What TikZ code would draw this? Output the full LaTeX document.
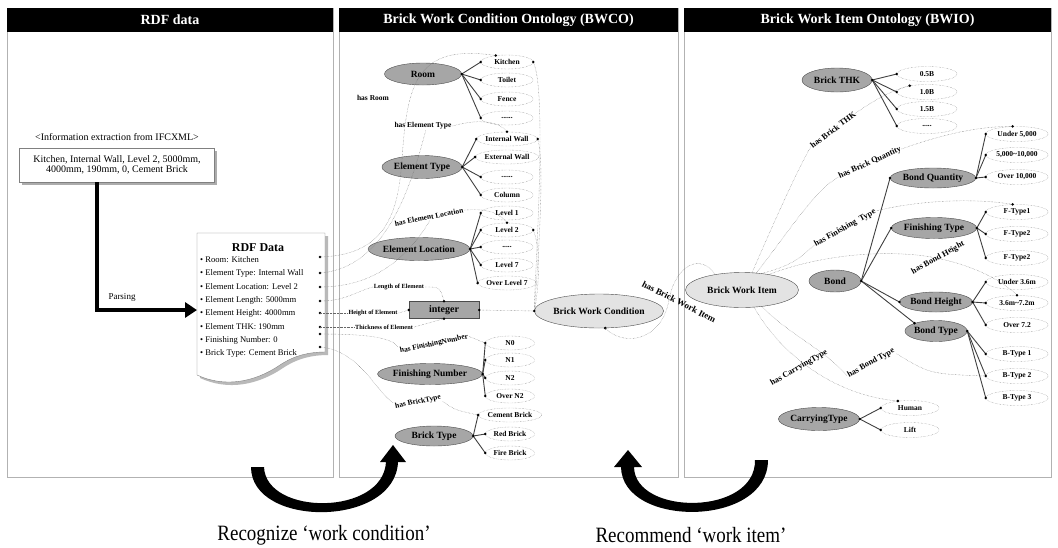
\documentclass[tikz,border=0pt]{standalone}
\usepackage{fontspec}
\setmainfont{Liberation Serif}
\usetikzlibrary{shapes.geometric,arrows.meta,shadows}

\newcommand{\fsz}[1]{\fontsize{#1}{#1}\selectfont}
\newcommand{\pin}[1]{\fill (#1) circle (1.4pt);}
\newcommand{\sixdots}{......}
\newcommand{\fivedots}{.....}

\tikzset{
  panel/.style={draw=gray!60, line width=1pt},
  bar/.style={fill=black, text=white, font=\bfseries\fsz{14}, minimum height=24pt, inner sep=0pt},
  cls/.style={ellipse, draw=gray!60!black, fill=gray!70, inner sep=0pt, font=\bfseries\fsz{9.5}},
  hub/.style={ellipse, draw=gray!60!black, fill=gray!22, inner sep=0pt, font=\bfseries\fsz{9.5}},
  val/.style={ellipse, draw=gray, densely dotted, inner sep=0pt, minimum width=52pt, minimum height=14pt, font=\bfseries\fsz{7.5}},
  rval/.style={val, minimum width=62pt, minimum height=15pt},
  rel/.style={font=\bfseries\fsz{7.5}, inner sep=1pt},
  rrel/.style={font=\bfseries\fsz{8.3}, inner sep=0.5pt},
  small/.style={font=\bfseries\fsz{6.3}, inner sep=1pt},
  link/.style={gray!80!black, densely dotted, thin},
  branch/.style={gray!50!black, line width=0.9pt},
  parse/.style={line width=4.5pt, -{Triangle[width=15pt,length=12pt]}},
}

\begin{document}
\begin{tikzpicture}[x=1pt, y=-1pt]
  \useasboundingbox (0,0) rectangle (1058,547);

  % panels
  \draw[panel] (7,8) rectangle (333,477);
  \draw[panel] (339,8) rectangle (678,477);
  \draw[panel] (684,8) rectangle (1051,477);
  \node[bar, minimum width=326pt] (ttl1) at (170,20) {RDF data};
  \node[bar, minimum width=339pt] (ttl2) at (508.5,20) {Brick Work Condition Ontology (BWCO)};
  \node[bar, minimum width=367pt] (ttl3) at (867.5,20) {Brick Work Item Ontology (BWIO)};

  % RDF data
  \node[font=\fsz{10}] (ifc) at (117,137) {\textless Information extraction from IFCXML\textgreater};
  \node[draw=gray, fill=white, align=center, font=\fsz{10}, minimum width=195pt, minimum height=34pt,
        inner sep=2pt, drop shadow={shadow xshift=2.5pt, shadow yshift=-2.5pt, fill=gray!65, opacity=1}]
        (ext) at (117,165) {Kitchen, Internal Wall, Level 2, 5000mm,\\ 4000mm, 190mm, 0, Cement Brick};

  \fill[gray!55] (200,236) -- (328,236) -- (328,355) .. controls (313,355) and (298,358) .. (283,368)
        .. controls (258,385) and (228,391) .. (200,378) -- cycle;
  \draw[gray, fill=white] (197,233) -- (325,233) -- (325,352) .. controls (310,352) and (295,355) .. (280,365)
        .. controls (255,382) and (225,388) .. (197,375) -- cycle;
  \node[font=\bfseries\fsz{12}] (rdfh) at (258,248) {RDF Data};
  \node[anchor=north west, align=left, inner sep=0pt, font=\fontsize{8.6}{13.3}\selectfont] (rdf) at (200,256.5)
        {\textbullet\ Room: Kitchen\\ \textbullet\ Element Type: Internal Wall\\ \textbullet\ Element Location: Level 2\\
         \textbullet\ Element Length: 5000mm\\ \textbullet\ Element Height: 4000mm\\ \textbullet\ Element THK: 190mm\\
         \textbullet\ Finishing Number: 0\\ \textbullet\ Brick Type: Cement Brick};
  \coordinate (docin) at (197,310);
  \foreach \nm/\yy in {1/257,2/273,3/287,4/301,5/313,6/327,7/334,8/347} {
    \coordinate (d\nm) at (320,\yy);
    \pin{d\nm}
  }

  \draw[parse] ([xshift=-20pt]ext.south) |- (docin);
  \node[font=\fsz{9}] (pars) at (122,297) {Parsing};

  % BWCO
  \node[cls, minimum width=77pt, minimum height=22pt] (room) at (423,74) {Room};
  \node[cls, minimum width=80pt, minimum height=23pt] (etype) at (422,167) {Element Type};
  \node[cls, minimum width=80pt, minimum height=23pt] (eloc) at (419,249) {Element Location};
  \node[draw=gray!60!black, fill=gray!70, minimum width=70pt, minimum height=17pt, inner sep=0pt,
        font=\bfseries\fsz{10}] (int) at (444,310) {integer};
  \node[cls, minimum width=78pt, minimum height=21pt] (fnum) at (430,374) {Finishing Number};
  \node[cls, minimum width=78pt, minimum height=20pt] (btype) at (434,436) {Brick Type};
  \node[hub, minimum width=112pt, minimum height=34pt] (bwc) at (599,311) {Brick Work Condition};

  \foreach \nm/\yy/\txt in {kit/62/Kitchen, toi/80/Toilet, fen/99/Fence, rmx/118/\sixdots,
      iwall/139/Internal Wall, ewall/157/External Wall, tpx/177/\sixdots, col/195/Column,
      lv1/213/Level 1, lv2/230/Level 2, lvx/247/\fivedots, lv7/265/Level 7, lvo/283/Over Level 7}
    {\node[val] (\nm) at (507,\yy) {\txt};}
  \foreach \nm/\yy/\txt in {n0/343/N0, n1/360/N1, n2/378/N2, no2/396/Over N2,
      cem/415/Cement Brick, red/434/Red Brick, fire/453/Fire Brick}
    {\node[val, minimum width=49pt] (\nm) at (510,\yy) {\txt};}

  \foreach \v in {kit,toi,fen,rmx} {\draw[branch] (room.east) -- (\v.west); \pin{\v.west}}
  \foreach \v in {iwall,ewall,tpx,col} {\draw[branch] (etype.east) -- (\v.west); \pin{\v.west}}
  \foreach \v in {lv1,lv2,lvx,lv7,lvo} {\draw[branch] (eloc.east) -- (\v.west); \pin{\v.west}}
  \foreach \v in {n0,n1,n2,no2} {\draw[branch] (fnum.east) -- (\v.west); \pin{\v.west}}
  \foreach \v in {cem,red,fire} {\draw[branch] (btype.east) -- (\v.west); \pin{\v.west}}
  \foreach \c in {room,etype,eloc,fnum,btype} {\pin{\c.east}}

  \node[rel] (hasroom) at (373,98) {has Room};
  \node[rel] (haset) at (423,126) {has Element Type};
  \node[rel, rotate=11] (hasel) at (429,217) {has Element Location};
  \node[small] (lenel) at (399,287) {Length of Element};
  \node[small] (heiel) at (373,313) {Height of Element};
  \node[small] (thkel) at (384,327) {Thickness of Element};
  \node[rel, rotate=12] (hasfn) at (434,344) {has FinishingNumber};
  \node[rel, rotate=12] (hasbt) at (418,402) {has BrickType};

  \draw[link] (d1) .. controls (385,255) and (398,215) .. (402,160) .. controls (407,80) and (418,44) .. (kit.150);
  \draw[link] (d2) .. controls (385,268) and (410,190) .. (haset.300);
  \draw[link] (haset.east) .. controls (480,118) and (500,122) .. (iwall.north);
  \draw[link] (d3) .. controls (370,287) and (405,262) .. (hasel.south);
  \draw[link] (hasel.east) .. controls (490,208) and (500,214) .. (lv2.north);
  \draw[link] (d4) .. controls (345,301) and (355,292) .. (lenel.west);
  \draw[link] (lenel.east) .. controls (440,287) .. (int.north);
  \draw[link] (d5) -- (heiel.west);
  \draw[link] (heiel.east) -- (int.west);
  \draw[link] (d6) -- (thkel.west);
  \draw[link] (thkel.east) .. controls (430,323) .. (int.south);
  \draw[link] (d7) .. controls (370,334) and (392,338) .. (hasfn.north west);
  \draw[link] (hasfn.east) -- (n0.west);
  \draw[link] (d8) .. controls (360,350) and (378,395) .. (hasbt.north west);
  \draw[link] (hasbt.south east) .. controls (455,410) .. (cem.west);

  \draw[link] (kit.east) .. controls (548,90) and (534,290) .. (bwc.west);
  \draw[link] (iwall.east) .. controls (546,165) and (536,290) .. (bwc.west);
  \draw[link] (lv2.east) .. controls (542,250) and (538,295) .. (bwc.west);
  \draw[link] (int.east) -- (bwc.west);
  \foreach \p in {kit.150,kit.east,iwall.north,iwall.east,lv2.north,lv2.east,
                  int.north,int.west,int.south,int.east,bwc.west,bwc.290} {\pin{\p}}

  % BWIO
  \node[hub, minimum width=113pt, minimum height=35pt] (bwi) at (742,290) {Brick Work Item};
  \node[cls, minimum width=70pt, minimum height=24pt] (bthk) at (837,80) {Brick THK};
  \node[cls, minimum width=70pt, minimum height=20pt] (bqty) at (933,178) {Bond Quantity};
  \node[cls, minimum width=66pt, minimum height=21pt] (ftype) at (934,228) {Finishing Type};
  \node[cls, minimum width=52pt, minimum height=22pt] (bond) at (835,281) {Bond};
  \node[cls, minimum width=62pt, minimum height=20pt] (bh) at (936,302) {Bond Height};
  \node[cls, minimum width=62pt, minimum height=21pt] (bt) at (936,331) {Bond Type};
  \node[cls, minimum width=76pt, minimum height=23pt] (carry) at (819,419) {CarryingType};

  \foreach \nm/\yy/\txt in {v05/74/0.5B, v10/92/1.0B, v15/109/1.5B, thkx/126/\fivedots}
    {\node[rval, minimum width=60pt] (\nm) at (927,\yy) {\txt};}
  \foreach \nm/\yy/\txt in {q1/134/{Under 5,000}, q2/155/{5,000\textasciitilde 10,000}, q3/177/{Over 10,000},
      f1/212/F-Type1, f2/234/F-Type2, f3/258/F-Type2,
      h1/282/Under 3.6m, h2/303/3.6m\textasciitilde 7.2m, h3/325/Over 7.2,
      t1/354/B-Type 1, t2/376/B-Type 2, t3/398/B-Type 3}
    {\node[rval] (\nm) at (1017,\yy) {\txt};}
  \foreach \nm/\yy/\txt in {hu/408/Human, li/430/Lift}
    {\node[rval, minimum width=58pt] (\nm) at (910,\yy) {\txt};}

  \foreach \v in {v05,v10,v15,thkx} {\draw[branch] (bthk.east) -- (\v.west); \pin{\v.west}}
  \foreach \v in {q1,q2,q3} {\draw[branch] (bqty.east) -- (\v.west); \pin{\v.west}}
  \foreach \v in {f1,f2,f3} {\draw[branch] (ftype.east) -- (\v.west); \pin{\v.west}}
  \foreach \v in {h1,h2,h3} {\draw[branch] (bh.east) -- (\v.west); \pin{\v.west}}
  \foreach \v in {t1,t2,t3} {\draw[branch] (bt.east) -- (\v.west); \pin{\v.west}}
  \foreach \v in {hu,li} {\draw[branch] (carry.east) -- (\v.west); \pin{\v.west}}
  \foreach \v in {bqty.west,ftype.west,bh.west,bt.160} {\draw[branch] (bond.east) -- (\v); \pin{\v}}
  \foreach \c in {bthk,bqty,ftype,bond,bh,bt,carry} {\pin{\c.east}}

  \node[rrel, rotate=37] (hbthk) at (833,130) {has Brick THK};
  \node[rrel, rotate=24] (hbq) at (870,163) {has Brick Quantity};
  \node[rrel, rotate=29] (hft) at (845,228) {has Finishing~~Type};
  \node[rrel, rotate=29] (hbh) at (938,258) {has Bond Height};
  \node[rrel, rotate=30] (hct) at (799,368) {has CarryingType};
  \node[rrel, rotate=29] (hbt) at (871,363) {has Bond Type};
  \node[rrel, font=\bfseries\fsz{9}, rotate=-27] (hbwi) at (679,302) {has Brick Work Item};

  \draw[link] (bwc.290) .. controls (625,348) and (662,340) .. (669,300) .. controls (675,266) and (700,252) .. (bwi.150);
  \draw[link] (bwi.60) .. controls (775,220) and (795,175) .. (hbthk.west);
  \draw[link] (hbthk.east) .. controls (875,100) and (888,92) .. (v10.160);
  \draw[link] (bwi.50) .. controls (790,230) and (815,190) .. (hbq.west);
  \draw[link] (hbq.east) .. controls (935,137) and (975,126) .. (q1.120);
  \draw[link] (bwi.40) .. controls (795,265) and (803,255) .. (hft.west);
  \draw[link] (hft.east) .. controls (920,200) and (975,198) .. (f1.120);
  \draw[link] (bwi.30) .. controls (820,255) and (880,250) .. (925,256) .. controls (965,262) and (1000,278) .. (h2.north);
  \draw[link] (bwi.-40) .. controls (790,335) and (825,350) .. (hbt.west);
  \draw[link] (hbt.south east) .. controls (930,374) .. (t2.west);
  \draw[link] (bwi.-55) .. controls (778,350) and (830,395) .. (hu.150);
  \foreach \p in {v10.160,q1.120,f1.120,h2.north,hu.150} {\pin{\p}}

  % work flow arrows
  \fill (251,467) .. controls (251,528) and (395,528) .. (398,462) -- (406,462) -- (393,445) -- (380,462)
        -- (386,462) .. controls (383,516) and (266,516) .. (264,467) -- cycle;
  \fill (768,460) .. controls (768,528) and (622,528) .. (621,467) -- (614,467) -- (628,450) -- (642,467)
        -- (634,467) .. controls (635,516) and (756,516) .. (755,460) -- cycle;
  \node[font=\fsz{19}] (recog) at (324,535) {\scalebox{1}[1.15]{Recognize ‘work condition’}};
  \node[font=\fsz{19}] (recom) at (691,535) {\scalebox{1}[1.15]{Recommend ‘work item’}};
\end{tikzpicture}
\end{document}
